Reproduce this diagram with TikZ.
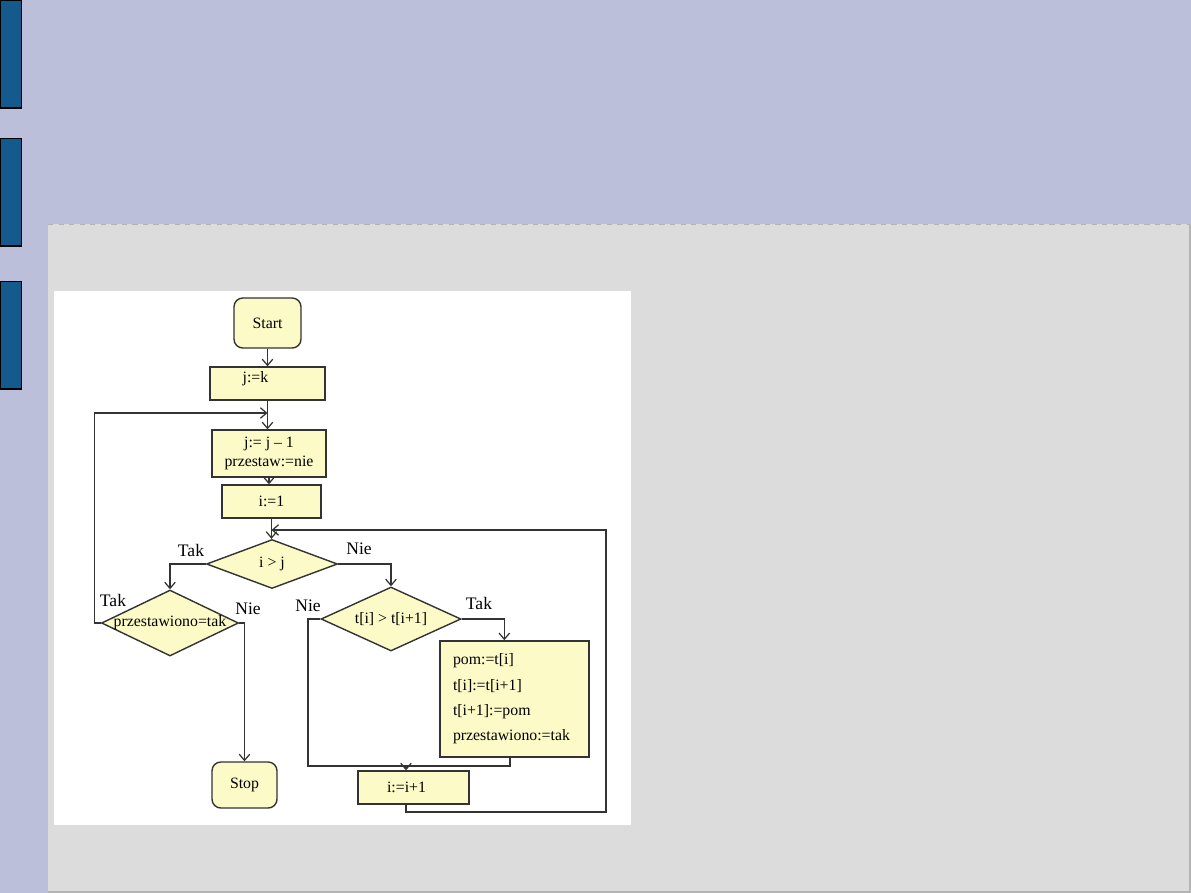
\documentclass[tikz,border=0pt]{standalone}
\usepackage{fontspec}
\setmainfont{Liberation Serif}
\usetikzlibrary{arrows.meta,positioning,calc,shapes.geometric}
\definecolor{slidebg}{HTML}{BBBFDA}
\definecolor{panelgray}{HTML}{DCDCDC}
\definecolor{panelrim}{HTML}{B4B4B4}
\definecolor{tabblue}{HTML}{145A8C}
\definecolor{boxfill}{HTML}{FCFAC6}
\definecolor{boxline}{HTML}{333333}
\tikzset{
  proc/.style={draw=boxline, fill=boxfill, line width=0.8pt, inner sep=0pt,
    font=\fontsize{9}{10.8}\selectfont, align=center},
  term/.style={proc, rounded corners=5pt},
  test/.style={diamond, draw=boxline, fill=boxfill, line width=0.8pt, inner sep=0pt},
  ptext/.style={font=\fontsize{9}{10.8}\selectfont, inner sep=0pt},
  yesno/.style={font=\fontsize{10}{12}\selectfont, inner sep=0pt},
  arr/.style={-{Straight Barb[length=3.5pt,width=6pt]}, line width=0.7pt, draw=boxline},
  flowline/.style={line width=0.7pt, draw=boxline},
  tab/.style={fill=tabblue, draw=black, line width=0.6pt},
}
\begin{document}
\begin{tikzpicture}[x=0.02cm,y=-0.02cm]
  \useasboundingbox (0,0) rectangle (1191,893);
  % slide background
  \fill[slidebg] (0,0) rectangle (1191,893);
  \fill[panelgray] (48,224) rectangle (1191,893);
  \draw[panelrim, line width=0.8pt] (1190,224) -- (1190,892) -- (48,892);
  \draw[panelrim, dashed, line width=0.3pt] (48,224) -- (1191,224);
  \foreach \ty in {0,138,281} {
    \filldraw[tab] (0.5,\ty+0.5) rectangle (21.5,\ty+108);
  }
  \fill[white] (54,291) rectangle (631,825);

  % flowchart
  \node[term, ptext, minimum width=1.34cm, minimum height=1.0cm] (start) at (267.5,323) {Start};
  \node[proc, minimum width=2.3cm, minimum height=0.66cm,
    label={[ptext, anchor=north, xshift=-0.24cm, yshift=-0.1cm]north:j:=k}] (jk) at (267.5,383.5) {};
  \node[proc, minimum width=2.28cm, minimum height=0.94cm] (jj) at (269,453.5) {j:= j -- 1\\przestaw:=nie};
  \node[proc, minimum width=1.98cm, minimum height=0.66cm] (i1) at (271.5,501.5) {i:=1};
  \node[test, minimum width=2.62cm, minimum height=0.98cm,
    label={[ptext]center:i > j}] (d1) at (272,564) {};
  \node[test, minimum width=2.74cm, minimum height=1.32cm,
    label={[ptext]center:przestawiono=tak}] (d2) at (170,623) {};
  \node[test, minimum width=2.8cm, minimum height=1.28cm,
    label={[ptext]center:t[i] > t[i+1]}] (d3) at (391,619) {};
  \node[proc, minimum width=2.98cm, minimum height=2.32cm, inner sep=0.26cm,
    text width=2.46cm, align=left, font=\fontsize{9}{14.4}\selectfont] (pom) at (514.5,699)
    {pom:=t[i]\\t[i]:=t[i+1]\\t[i+1]:=pom\\przestawiono:=tak};
  \node[proc, minimum width=2.22cm, minimum height=0.66cm] (inc) at (413.5,787.5) {\hspace{-0.28cm}i:=i+1};
  \node[term, ptext, minimum width=1.3cm, minimum height=0.92cm] (stop) at (244.5,785) {Stop};

  % branch labels
  \node[yesno] (takA) at (191,550) {Tak};
  \node[yesno] (nieA) at (359,549) {Nie};
  \node[yesno] (takB) at (113,600) {Tak};
  \node[yesno] (nieB) at (248,609) {Nie};
  \node[yesno] (nieC) at (308,606) {Nie};
  \node[yesno] (takC) at (479,603) {Tak};

  % joints
  \coordinate (top1) at (267.5,413);
  \coordinate (top2) at (271.5,530);
  \coordinate (lowl) at (308,766);
  \coordinate (lowm) at (406,766);
  \coordinate (lowr) at (510,766);
  \coordinate (back) at (606,812);

  % connectors
  \draw[arr] (start) -- (jk);
  \draw[flowline] (jk.south) -- (top1);
  \draw[arr] (top1) -- (top1 |- jj.north);
  \draw[arr] (d2.west) -- ++(-6,0) |- (top1);
  \draw[arr] (jj.south) -- (jj.south |- i1.north);
  \draw[flowline] (i1.south) -- (i1.south |- top2);
  \draw[arr] (top2) -- (top2 |- d1.north);
  \draw[arr] (d1.west) -| (d2.north);
  \draw[arr] (d1.east) -| (d3.north);
  \draw[arr] (d2.east) -| (stop.north);
  \draw[arr] (d3.east) -| ($(pom.north west)+(65,0)$);
  \draw[flowline] (d3.west) -| (lowl) -- (lowr) -- (lowr |- pom.south);
  \draw[arr] (lowm) -- (lowm |- inc.north);
  \draw[arr] (lowm |- inc.south) |- (back) |- (top2);
\end{tikzpicture}
\end{document}
